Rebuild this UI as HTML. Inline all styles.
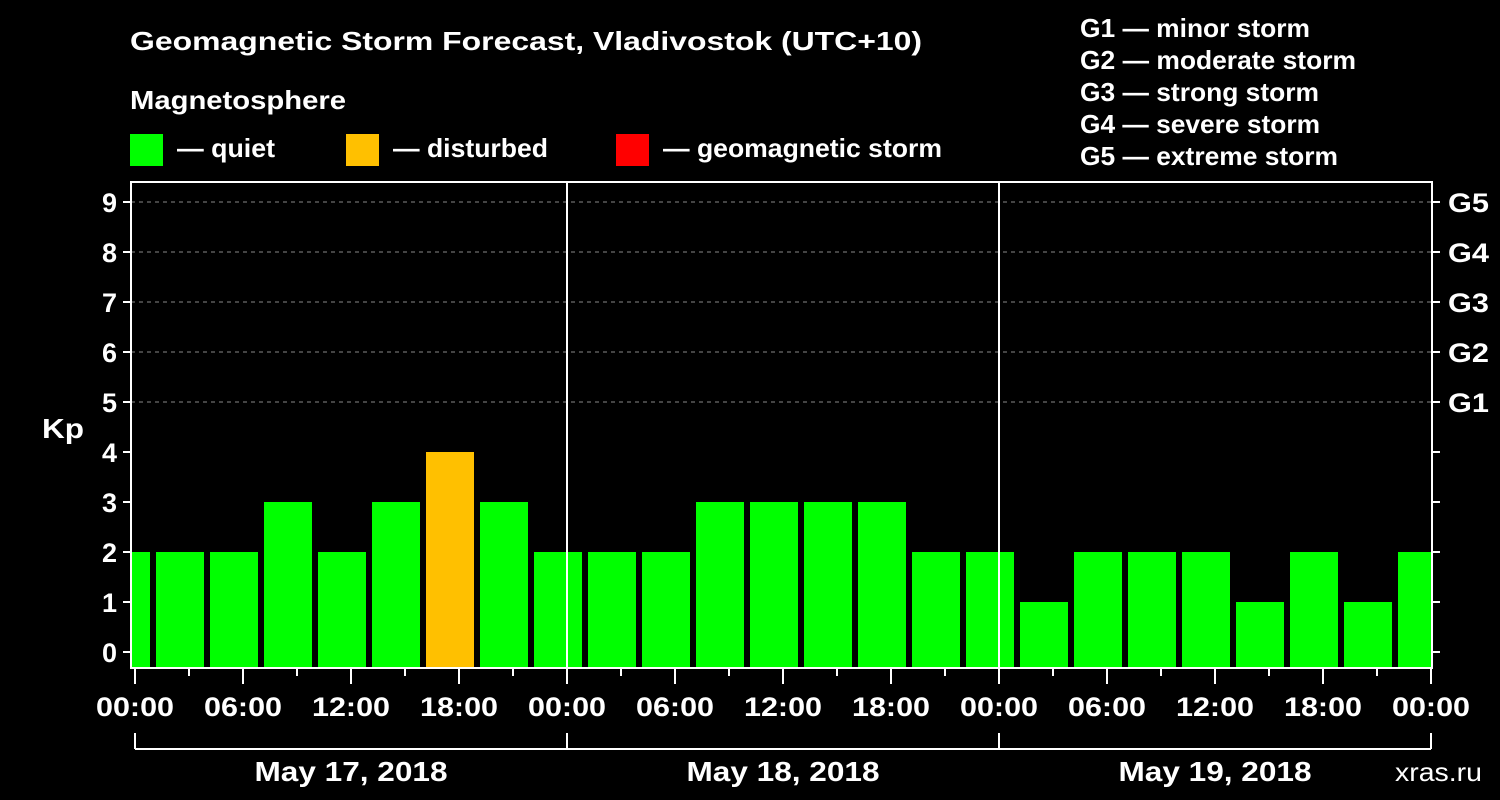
<!DOCTYPE html>
<html><head><meta charset="utf-8"><style>
html,body{margin:0;padding:0;background:#000;}
svg{display:block;font-family:"Liberation Sans",Arial,sans-serif;font-weight:bold;}
</style></head><body>
<svg id="chart" width="1500" height="800" viewBox="0 0 1500 800">
<rect width="1500" height="800" fill="#000"/>
<text x="130" y="50" fill="#fff" font-size="26" textLength="792" lengthAdjust="spacingAndGlyphs">Geomagnetic Storm Forecast, Vladivostok (UTC+10)</text>
<text x="130" y="109" fill="#fff" font-size="26" textLength="216" lengthAdjust="spacingAndGlyphs">Magnetosphere</text>
<g><rect x="130" y="134" width="33" height="32" fill="#00ff00"/><text x="177" y="157" fill="#fff" font-size="26" textLength="98" lengthAdjust="spacingAndGlyphs">— quiet</text></g>
<g><rect x="346" y="134" width="33" height="32" fill="#ffc000"/><text x="393" y="157" fill="#fff" font-size="26" textLength="155" lengthAdjust="spacingAndGlyphs">— disturbed</text></g>
<g><rect x="616" y="134" width="33" height="32" fill="#ff0000"/><text x="663" y="157" fill="#fff" font-size="26" textLength="279" lengthAdjust="spacingAndGlyphs">— geomagnetic storm</text></g>
<g fill="#fff" font-size="26">
<text x="1080" y="37" textLength="230" lengthAdjust="spacingAndGlyphs">G1 — minor storm</text>
<text x="1080" y="69" textLength="276" lengthAdjust="spacingAndGlyphs">G2 — moderate storm</text>
<text x="1080" y="101" textLength="239" lengthAdjust="spacingAndGlyphs">G3 — strong storm</text>
<text x="1080" y="133" textLength="240" lengthAdjust="spacingAndGlyphs">G4 — severe storm</text>
<text x="1080" y="165" textLength="258" lengthAdjust="spacingAndGlyphs">G5 — extreme storm</text>
</g>
<text x="42" y="438" fill="#fff" font-size="28" textLength="42" lengthAdjust="spacingAndGlyphs">Kp</text>
<text x="1395" y="781" fill="#fff" font-size="26" font-weight="normal" textLength="87" lengthAdjust="spacingAndGlyphs">xras.ru</text>
<defs><clipPath id="pc"><rect x="132" y="183" width="1299" height="485"/></clipPath></defs>
<g id="grid"></g>
<g id="bars" clip-path="url(#pc)"></g>
<g id="axes"></g>
</svg>
<script>
const kpValues=[2,2,2,3,2,3,4,3,2,2,2,3,3,3,3,2,2,1,2,2,2,1,2,1,2];
const dayLabels=["May 17, 2018","May 18, 2018","May 19, 2018"];
const hourLabels=["00:00","06:00","12:00","18:00"];
const kpTicks=[0,1,2,3,4,5,6,7,8,9];
const gLabels=["G1","G2","G3","G4","G5"];
const NS="http://www.w3.org/2000/svg";
const x0=135,pxH=18,y0=652,pxK=50,plotLeft=131,plotRight=1432,plotTop=182,plotBottom=668;
const X=h=>x0+h*pxH, Y=k=>y0-k*pxK;
function mk(t,a,p){const e=document.createElementNS(NS,t);for(const k in a)e.setAttribute(k,a[k]);p.appendChild(e);return e;}
const grid=document.getElementById('grid'),bars=document.getElementById('bars'),axes=document.getElementById('axes');
kpTicks.forEach(k=>{
 if(k>=5){const l=mk('line',{x1:plotLeft,x2:plotRight,y1:Y(k),y2:Y(k),stroke:'#888','stroke-dasharray':'4,4','stroke-width':1},grid);
 
 }
 const t=mk('line',{x1:plotLeft-8,x2:plotLeft,y1:Y(k),y2:Y(k),stroke:'#fff','stroke-width':2},axes);
 
 
 const t2=mk('line',{x1:plotRight,x2:plotRight+8,y1:Y(k),y2:Y(k),stroke:'#fff','stroke-width':2},axes);
 
 
 const tx=mk('text',{x:plotLeft-14,y:Y(k)+10,'text-anchor':'end',fill:'#fff','font-size':27},axes);tx.textContent=k;
 
 
});
gLabels.forEach((g,i)=>{const tx=mk('text',{x:plotRight+16,y:Y(5+i)+10,fill:'#fff','font-size':27,textLength:41,lengthAdjust:'spacingAndGlyphs'},axes);tx.textContent=g;
 
 });
kpValues.forEach((v,i)=>{
 const h0=-2+i*3;
 const r=mk('rect',{x:X(h0)+3,y:Y(v),width:3*pxH-6,height:plotBottom-Y(v),fill:v>=5?'#ff0000':(v>=4?'#ffc000':'#00ff00')},bars);
 
 
});
const fr=mk('rect',{x:plotLeft,y:plotTop,width:plotRight-plotLeft,height:plotBottom-plotTop,fill:'none',stroke:'#fff','stroke-width':2},axes);


for(let d=1;d<dayLabels.length;d++){const l=mk('line',{x1:X(24*d),x2:X(24*d),y1:plotTop,y2:plotBottom,stroke:'#fff','stroke-width':2},axes);
 
 }
for(let h=0;h<=72;h+=3){const l=mk('line',{x1:X(h),x2:X(h),y1:plotBottom,y2:plotBottom+(h%6===0?16:8),stroke:'#fff','stroke-width':2},axes);
 
 }
for(let h=0;h<=72;h+=6){const tx=mk('text',{x:X(h),y:716,'text-anchor':'middle',fill:'#fff','font-size':27,textLength:78,lengthAdjust:'spacingAndGlyphs'},axes);tx.textContent=hourLabels[(h/6)%4];
 
 }
const br=mk('line',{x1:X(0),x2:X(72),y1:749,y2:749,stroke:'#fff','stroke-width':2},axes);


for(let d=0;d<=dayLabels.length;d++){const l=mk('line',{x1:X(24*d),x2:X(24*d),y1:733,y2:749,stroke:'#fff','stroke-width':2},axes);
 
 }
dayLabels.forEach((s,d)=>{const tx=mk('text',{x:X(24*d+12),y:781,'text-anchor':'middle',fill:'#fff','font-size':28,textLength:193,lengthAdjust:'spacingAndGlyphs'},axes);tx.textContent=s;
 
 });
</script>
</body></html>
